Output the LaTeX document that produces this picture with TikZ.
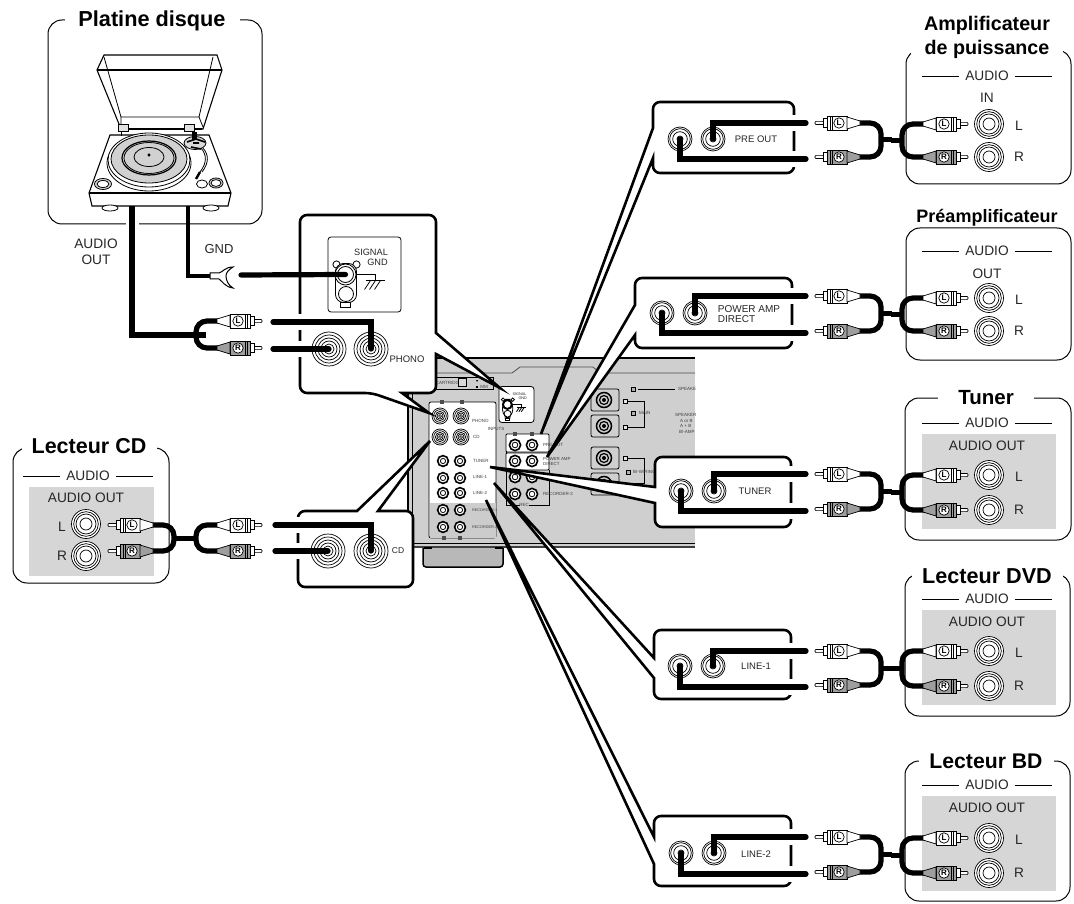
\documentclass[tikz,border=0pt]{standalone}
\usepackage{fontspec}
\setmainfont{Liberation Sans}
\usepackage{xcolor}
\usepackage{tikz}
\definecolor{panelgray}{HTML}{CFCFCF}
\definecolor{devgray}{HTML}{D6D6D6}
\definecolor{textblack}{HTML}{262626}

\tikzset{
  fine/.style={line width=0.8pt},
  devbox/.style={line width=1pt,rounded corners=14pt},
  devtitle/.style={fill=white,inner sep=0pt,minimum height=18pt,text=black,font=\bfseries},
  devlabel/.style={inner sep=0pt,text=textblack,font=\fontsize{13.7}{15}\selectfont},
  panellabel/.style={inner sep=0pt,text=textblack,font=\fontsize{9.5}{10.5}\selectfont,align=left},
  tinylabel/.style={inner sep=0pt,text=black!75,font=\fontsize{4.5}{5}\selectfont,align=left},
  calloutline/.style={line width=2.6pt,fill=white},
  wire/.style={line width=5.2pt,line cap=round},
  cable/.style={line width=5.2pt,rounded corners=11pt},
  plugline/.style={line width=0.7pt},
  plugL/.style={fill=white},
  plugR/.style={fill=black!38},
  gapline/.style={draw=white,line width=4.5pt},
}

% one set of rings, largest radius first
\newcommand{\jack}[3]{%
  \coordinate (#1) at (#2);
  \foreach \ringr in {#3} \draw[plugline,fill=white] (#1) circle (\ringr);
}
% name, tip x, y, direction, letter
\newcommand{\rcaplug}[5]{%
  \begin{scope}[shift={(#2,#3)},xscale=#4]
    \draw[plugline,fill=white,rounded corners=1pt] (0,-1.6) rectangle (9,1.6);
    \draw[plugline,fill=white] (8,-4.5) rectangle (12,4.5);
    \draw[plugline,plug#5] (12,-7) rectangle (32,7);
    \draw[plugline] (15,-7) -- (15,7) (17,-7) -- (17,7);
    \draw[plugline,plug#5] (32,-6) -- (45,-2) -- (45,2) -- (32,6) -- cycle;
    \draw[plugline,fill=white] (24,0) circle (5.2);
    \node[inner sep=0pt,font=\bfseries\fontsize{8}{8}\selectfont] (#1) at (24,0) {#5};
  \end{scope}
}
% name, tip x, direction, y of L, y of R
\newcommand{\rcahalf}[5]{%
  \begin{scope}[shift={(#2,0)},xscale=#3]
    \draw[cable] (44,#4) -- (66,#4) -- (66,#5) -- (44,#5);
    \draw[line width=5pt] (65,{(#4+#5)/2}) -- (77,{(#4+#5)/2});
  \end{scope}
  \rcaplug{#1L}{#2}{#4}{#3}{L}
  \rcaplug{#1R}{#2}{#5}{#3}{R}
}
% name, jack x, jack y, wire L y, wire R y, device L y, device R y, panel right x
\newcommand{\panelrow}[8]{%
  \jack{#1A}{#2,#3}{12,10.3,7.3,3}
  \jack{#1B}{#2+33,#3}{12,10.3,7.3,3}
  \draw[gapline] (#8,#4-8) -- (#8,#4+8) (#8,#5-8) -- (#8,#5+8);
  \coordinate (#1WL) at (806,#4);
  \coordinate (#1WR) at (806,#5);
  \draw[wire] (#1WL) -| (#1B);
  \draw[wire] (#1WR) -| (#1A);
  \rcahalf{#1Src}{815}{1}{#4}{#5-2}
  \rcahalf{#1Dev}{968}{-1}{#6}{#7}
  \jack{#1DevL}{989,#6}{14.5,12.3,10,6}
  \jack{#1DevR}{989,#7}{14.5,12.3,10,6}
  \node[devlabel] (#1TL) at (1019,#6+2) {L};
  \node[devlabel] (#1TR) at (1019,#7) {R};
}
% name, x, y
\newcommand{\audiohead}[3]{%
  \node[devlabel] (#1) at (#2,#3) {AUDIO};
  \draw[fine] ([xshift=-6pt]#1.west) -- ++(-37,0);
  \draw[fine] ([xshift=6pt]#1.east) -- ++(37,0);
}
% name, centre, scale, font size
\newcommand{\signalgnd}[4]{%
  \begin{scope}[shift={(#2)},scale=#3]
    \draw[fine,fill=white,rounded corners=3pt] (-36.5,-37.5) rectangle (36.5,37.5);
    \draw[fine,fill=white] (-28,-10) circle (3.6) (-8,-10) circle (3.6);
    \draw[fine,fill=white,rounded corners=8pt] (-29,-11) -- (-8,-11) -- (-8,28) -- (-29,28) -- cycle;
    \draw[fine,fill=white] (-24,28) rectangle (-14,33);
    \draw[fine] (-19,0) circle (10.5) (-19,0) circle (8);
    \draw[fine] (-18.5,19.5) circle (7.5);
    \draw[fine] (-8,0) -- (11,0) -- (11,6) (1,6) -- (20,6);
    \draw[fine] (6,6) -- (0,15) (11,6) -- (5,15) (16,6) -- (10,15);
    \coordinate (#1) at (-19,0);
    \node[inner sep=0pt,text=textblack,font=\fontsize{#4}{#4}\selectfont] (#1sig) at (6.5,-22.5) {SIGNAL};
    \node[inner sep=0pt,text=textblack,font=\fontsize{#4}{#4}\selectfont] (#1gnd) at (13,-12.5) {GND};
  \end{scope}
}
% left, top, right, bottom, wedge y 1, wedge y 2, tip
\newcommand{\callout}[7]{%
  \draw[calloutline] (#1,#5) [rounded corners=7pt] -- (#1,#2) -- (#3,#2) -- (#3,#4) -- (#1,#4) [sharp corners] -- (#1,#6) -- (#7) -- cycle;
}

\begin{document}
\begin{tikzpicture}[x=1pt,y=-1pt]
  \useasboundingbox (0,0) rectangle (1074,904);

  % Platine disque
  \draw[devbox] (48,20) rectangle (262,224);
  \node[devtitle,minimum width=175pt,font=\bfseries\fontsize{21.7}{24}\selectfont] (ttitle) at (152,21) {Platine disque};
  \draw[gapline] (126,224) -- (139,224);
  % lid
  \draw[line width=1.1pt,fill=white] (97,70) -- (104,55) -- (217,55) -- (222,70) -- (203,129) -- (121,129) -- cycle;
  \draw[line width=1.8pt] (97,70) -- (222,70);
  \draw[line width=1.8pt] (122,129) -- (202,129);
  \draw[fine] (104,57) -- (121,117) -- (199,117) -- (213,57);
  \draw[fine] (121,117) -- (121,125) (199,117) -- (203,127);
  % base
  \draw[line width=1.1pt,fill=white] (110,135) -- (209,135) -- (231,193) -- (228,206) -- (92,206) -- (89,193) -- cycle;
  \draw[line width=1.1pt] (89,193) -- (231,193);
  \draw[fine,fill=black!12] (118,124) rectangle (128,131);
  \draw[fine,fill=black!12] (184,124) rectangle (194,131);
  \draw[fine] (121,131) -- (121,136);
  % feet
  \draw[fine,fill=white] (110,208) ellipse (8 and 3);
  \draw[fine,fill=white] (211,208) ellipse (8 and 3);
  % platter
  \draw[fine] (149,163) ellipse (42 and 28);
  \draw[fine,fill=white] (149,160) ellipse (41 and 27);
  \draw[fine,fill=black!18] (149,159) ellipse (38 and 24);
  \draw[line width=1.2pt] (149,158) ellipse (27 and 17);
  \draw[fine] (149,158) ellipse (25 and 15.5);
  \draw[fine] (149,157) ellipse (15 and 9.5);
  \fill (149,155) ellipse (1.6 and 1.8);
  % knobs
  \draw[fine,fill=black!15] (103,184) ellipse (8.5 and 5.5);
  \draw[fine,fill=white] (103,184) ellipse (6 and 3.5);
  \draw[fine,fill=white] (202,184) ellipse (5.5 and 4);
  \draw[fine,fill=black!15] (216,183) ellipse (7 and 5);
  \draw[fine,fill=white] (216,183) ellipse (5 and 3.4);
  % tonearm
  \draw[fine,fill=black!15] (195,143) ellipse (11 and 6.5);
  \fill (192,132) rectangle (197,140);
  \draw[line width=1.6pt] (187,142) -- (196,139) -- (205,142) (191,147) -- (201,149) (193,143) -- (199,143);
  \draw[fine] (201,148) .. controls (207,155) and (207,163) .. (200,172);
  \draw[fine] (203,148) .. controls (209,155) and (209,163) .. (202,172);
  \draw[line width=2.4pt] (200,172) -- (196,179);
  % wires from the platine
  \coordinate (audioTop) at (132,206);
  \coordinate (audioEnd) at (206,335);
  \coordinate (gndTop) at (188,206);
  \coordinate (gndFork) at (212,276);
  \draw[line width=5.4pt] (audioTop) |- (audioEnd);
  \draw[line width=4.4pt] (gndTop) |- (gndFork);
  \node[devlabel,align=center,font=\fontsize{13.7}{16}\selectfont] (audioout) at (96,252) {AUDIO\\OUT};
  \node[devlabel,font=\fontsize{13}{14}\selectfont] (gndtext) at (219,249) {GND};
  \draw[line width=1pt,fill=white] (210,273) -- (219,273) .. controls (223,272) and (225,267) .. (233,267) .. controls (228,270) and (226,273) .. (226,276) .. controls (226,280) and (228,285) .. (233,288) .. controls (225,287) and (222,281) .. (219,279) -- (210,279) -- cycle;

  % Lecteur CD
  \draw[devbox] (13,448) rectangle (169,583);
  \node[devtitle,minimum width=135pt,font=\bfseries\fontsize{21.5}{24}\selectfont] (cdtitle) at (89,446) {Lecteur CD};
  \audiohead{cdaudio}{88}{476}
  \fill[devgray] (29,487) rectangle (154,576);
  \node[devlabel] (cdout) at (86,498) {AUDIO OUT};
  \node[devlabel] (cdTL) at (62,527) {L};
  \node[devlabel] (cdTR) at (62,556) {R};
  \jack{cdDevL}{86,524}{14.5,12.3,10,6}
  \jack{cdDevR}{86,556}{14.5,12.3,10,6}

  % Amplificateur de puissance
  \draw[devbox] (906,50) rectangle (1071,184);
  \node[devtitle,minimum width=152pt,align=center,font=\bfseries\fontsize{19.7}{24}\selectfont] (amptitle) at (987,37) {Amplificateur\\de puissance};
  \audiohead{ampaudio}{987}{76}
  \node[devlabel] (ampin) at (987,98) {IN};
  % Preamplificateur
  \draw[devbox] (906,228) rectangle (1071,360);
  \node[devtitle,minimum width=154pt,font=\bfseries\fontsize{18}{20}\selectfont] (pretitle) at (987,218) {Préamplificateur};
  \audiohead{preaudio}{987}{251}
  \node[devlabel] (preout) at (987,274) {OUT};
  % Tuner
  \draw[devbox] (905,398) rectangle (1071,540);
  \node[devtitle,minimum width=96pt,font=\bfseries\fontsize{20.5}{24}\selectfont] (tuntitle) at (986,398) {Tuner};
  \audiohead{tunaudio}{987}{423}
  \fill[devgray] (922,434) rectangle (1056,529);
  \node[devlabel] (tunout) at (987,446) {AUDIO OUT};
  % Lecteur DVD
  \draw[devbox] (905,574) rectangle (1070,716);
  \node[devtitle,minimum width=151pt,font=\bfseries\fontsize{21.6}{24}\selectfont] (dvdtitle) at (987,576) {Lecteur DVD};
  \audiohead{dvdaudio}{987}{599}
  \fill[devgray] (922,610) rectangle (1056,705);
  \node[devlabel] (dvdout) at (987,622) {AUDIO OUT};
  % Lecteur BD
  \draw[devbox] (905,761) rectangle (1070,901);
  \node[devtitle,minimum width=135pt,font=\bfseries\fontsize{21.2}{24}\selectfont] (bdtitle) at (986,761) {Lecteur BD};
  \audiohead{bdaudio}{987}{785}
  \fill[devgray] (922,796) rectangle (1056,891);
  \node[devlabel] (bdout) at (987,808) {AUDIO OUT};

  % Receiver rear
  \begin{scope}
    \clip (400,350) rectangle (695,575);
    \fill[panelgray] (408,358) rectangle (695,547);
    \draw[line width=2.6pt] (408,358) -- (695,358);
    \draw[line width=1.2pt] (408,358) -- (408,547);
    \draw[fine] (412.5,358) -- (412.5,544);
    \draw[fine,black!70] (412,373) -- (512,373) -- (520,367) -- (593,367) -- (600,373) -- (695,373);
    \draw[line width=2pt,black!75] (408,547) -- (695,547);
    \draw[fine] (412,543.5) -- (695,543.5);
    % foot
    \draw[line width=1.5pt,fill=black!28,rounded corners=3pt] (423,548) -- (423,567) -- (503,567) -- (503,548);
    \draw[line width=2pt] (424,548) -- (432,548) (495,548) -- (503,548);
    % cartridge
    \draw[fine] (436,377) -- (493,377) -- (493,389) -- (436,389);
    \node[tinylabel] (cart) at (449,383) {CARTRIDGE};
    \draw[line width=1pt,fill=black!15] (458.5,378.5) rectangle (466.5,386);
    \fill (476,380) -- (478,380) -- (477,382) -- cycle;
    \fill (476,385.5) rectangle (478,387.5);
    \node[tinylabel] (cartmm) at (484,386.5) {MM};
    % inputs
    \draw[fine,fill=white,rounded corners=2pt] (429,402) rectangle (496,538);
    \fill[black!20] (429.5,503) rectangle (495.5,537.5);
    \foreach \sqx in {442,462} \fill[black!70] (\sqx-2,399.5) rectangle (\sqx+2,403.5);
    \foreach \sqx in {444,460} \fill[black!70] (\sqx-2,535.5) rectangle (\sqx+2,539.5);
    \jack{rPhL}{440,416}{8,6.3,4.6,3,1.5}
    \jack{rPhR}{461,416}{8,6.3,4.6,3,1.5}
    \jack{rCdL}{440,437}{8,6.3,4.6,3,1.5}
    \jack{rCdR}{461,437}{8,6.3,4.6,3,1.5}
    \foreach \rowy in {461,478,493,510,527} {
      \draw[line width=1.6pt,fill=white] (443,\rowy) circle (5.4);
      \draw[fine] (443,\rowy) circle (2.6);
      \draw[line width=1.6pt,fill=white] (460,\rowy) circle (5.4);
      \draw[fine] (460,\rowy) circle (2.6);
    }
    \node[tinylabel,anchor=west] (rPhono) at (472,421) {PHONO};
    \node[tinylabel,anchor=west] (rCd) at (473,437) {CD};
    \node[tinylabel] (rInputs) at (496,429) {INPUTS};
    \node[tinylabel,anchor=west] (rTuner) at (473,461) {TUNER};
    \node[tinylabel,anchor=west] (rLine1) at (473,477) {LINE-1};
    \node[tinylabel,anchor=west] (rLine2) at (473,493) {LINE-2};
    \node[tinylabel,anchor=west,font=\fontsize{3.8}{4}\selectfont] (rRec1) at (472,510) {RECORDER-1};
    \node[tinylabel,anchor=west,font=\fontsize{3.8}{4}\selectfont] (rRec2) at (472,527) {RECORDER-2};
    % outputs
    \draw[fine] (506,434) -- (506,505) -- (520,505) (529,505) -- (549,505) -- (549,470);
    \draw[fine,fill=white,rounded corners=1pt] (506,434) rectangle (549,452);
    \draw[fine,fill=white,rounded corners=1pt] (506,453) rectangle (549,470);
    \foreach \sqx in {515,532} \fill[black!70] (\sqx-2,432) rectangle (\sqx+2,436);
    \foreach \rowy in {445,461,477,494} {
      \draw[line width=1.6pt,fill=white] (515,\rowy) circle (5.6);
      \draw[fine] (515,\rowy) circle (2.8);
      \draw[line width=1.6pt,fill=white] (532,\rowy) circle (5.6);
      \draw[fine] (532,\rowy) circle (2.8);
    }
    \node[tinylabel,anchor=west] (rPre) at (543,445) {PRE OUT};
    \node[tinylabel,anchor=west,font=\fontsize{4.4}{5}\selectfont] (rPower) at (543,461.5) {POWER AMP\\DIRECT};
    \node[tinylabel,anchor=west] (rRecOut) at (543,494) {RECORDER-2};
    \node[tinylabel] (rRecLab) at (524,505) {REC};
    % speakers
    \foreach \spy in {389,415,447,473} {
      \draw[fine,rounded corners=2pt] (591,\spy) rectangle (619,\spy+22);
      \draw[line width=1.5pt] (604,\spy+11) circle (7.5);
      \draw[line width=1.2pt] (604,\spy+11) circle (4.5);
      \fill (604,\spy+11) circle (2);
    }
    \foreach \sqy in {401,427,458} \draw[line width=1pt,fill=black!10] (623,\sqy-2) rectangle (627,\sqy+2);
    \draw[fine] (628,401) -- (644,401) -- (644,427) -- (628,427);
    \draw[fine] (628,458) -- (644,458) -- (644,483) -- (628,483);
    \draw[line width=1pt,fill=black!30] (631.5,387) rectangle (635.5,391);
    \draw[fine] (638,389) -- (675,389);
    \node[tinylabel,anchor=west] (spkTop) at (678,389) {SPEAKERS};
    \draw[line width=1pt,fill=black!30] (631,411) rectangle (635,415);
    \node[tinylabel,anchor=west] (spkMain) at (639,413) {MAIN};
    \draw[line width=1pt,fill=black!30] (626,470) rectangle (630,474);
    \node[tinylabel,anchor=west] (spkBi) at (633,472) {BI-WIRING};
    \node[tinylabel,anchor=west] (spkA) at (675,415) {SPEAKERS};
    \node[tinylabel,anchor=west] (spkB) at (680,421) {A or B};
    \node[tinylabel,anchor=west] (spkC) at (680,426) {A + B};
    \node[tinylabel,anchor=west] (spkD) at (679,432) {BI-AMP};
  \end{scope}
  \signalgnd{rGnd}{516.5,404.5}{0.48}{3.8}

  % Callouts
  \draw[calloutline] (436,333) [rounded corners=7pt] -- (436,215) -- (300,215) -- (300,393) -- (372,393) [sharp corners] -- (429,413) -- (402,393) [rounded corners=7pt] -- (436,393) [sharp corners] -- (436,354) -- (500,388) -- cycle;
  \draw[calloutline] (378,511) [rounded corners=7pt] -- (413,511) -- (413,587) -- (298,587) -- (298,511) [sharp corners] -- (357,511) -- (430,441) -- cycle;
  \callout{653}{102}{794}{173}{128}{158}{541,434}
  \callout{635}{278}{792}{348}{305}{335}{547,457}
  \callout{655}{457}{791}{527}{487}{503}{490,467}
  \callout{654}{630}{791}{699}{658}{678}{494,483}
  \callout{654}{816}{791}{886}{837}{864}{486,500}

  % Phono panel
  \signalgnd{phGnd}{364.5,274.5}{1}{9.2}
  \jack{phonoA}{329,349}{17,14,11,8,5}
  \jack{phonoB}{371,349}{17,14,11,8,5}
  \node[panellabel] (phonotext) at (407,359) {PHONO};
  \draw[gapline] (300,314) -- (300,330) (300,341) -- (300,357);
  \coordinate (gndStart) at (241,275);
  \coordinate (phWL) at (273,322);
  \coordinate (phWR) at (273,349);
  \draw[wire] (gndStart) -- (phGnd);
  \draw[wire] (phWL) -| (phonoB);
  \draw[wire] (phWR) -- (phonoA);
  \rcahalf{phono}{262}{-1}{321}{348}

  % CD panel
  \jack{cdA}{328,551}{17,14,11,8,5}
  \jack{cdB}{371,551}{17,14,11,8,5}
  \node[panellabel,font=\fontsize{8.5}{9}\selectfont] (cdtext) at (398,551) {CD};
  \draw[gapline] (298,517) -- (298,533) (298,543) -- (298,559);
  \coordinate (cdWL) at (275,525);
  \coordinate (cdWR) at (275,551);
  \draw[wire] (cdWL) -| (cdB);
  \draw[wire] (cdWR) -- (cdA);
  \rcahalf{cdSrc}{108}{1}{525}{551}
  \rcahalf{cdDev}{262}{-1}{525}{551}

  % Output rows
  \panelrow{pre}{680}{139}{123}{159}{124}{157}{794}
  \node[panellabel] (pretext) at (756,139) {PRE OUT};
  \panelrow{pow}{662}{313}{296}{333}{298}{331}{792}
  \node[panellabel,font=\fontsize{10}{10.5}\selectfont] (powtext) at (749,314) {POWER AMP\\DIRECT};
  \panelrow{tun}{681}{491}{474}{511}{475}{510}{791}
  \node[panellabel] (tuntext) at (755,491) {TUNER};
  \panelrow{lin}{680}{666}{651}{687}{651}{686}{791}
  \node[panellabel] (lintext) at (756,666) {LINE-1};
  \panelrow{lit}{681}{853}{837}{874}{838}{873}{791}
  \node[panellabel] (littext) at (756,854) {LINE-2};
\end{tikzpicture}
\end{document}
